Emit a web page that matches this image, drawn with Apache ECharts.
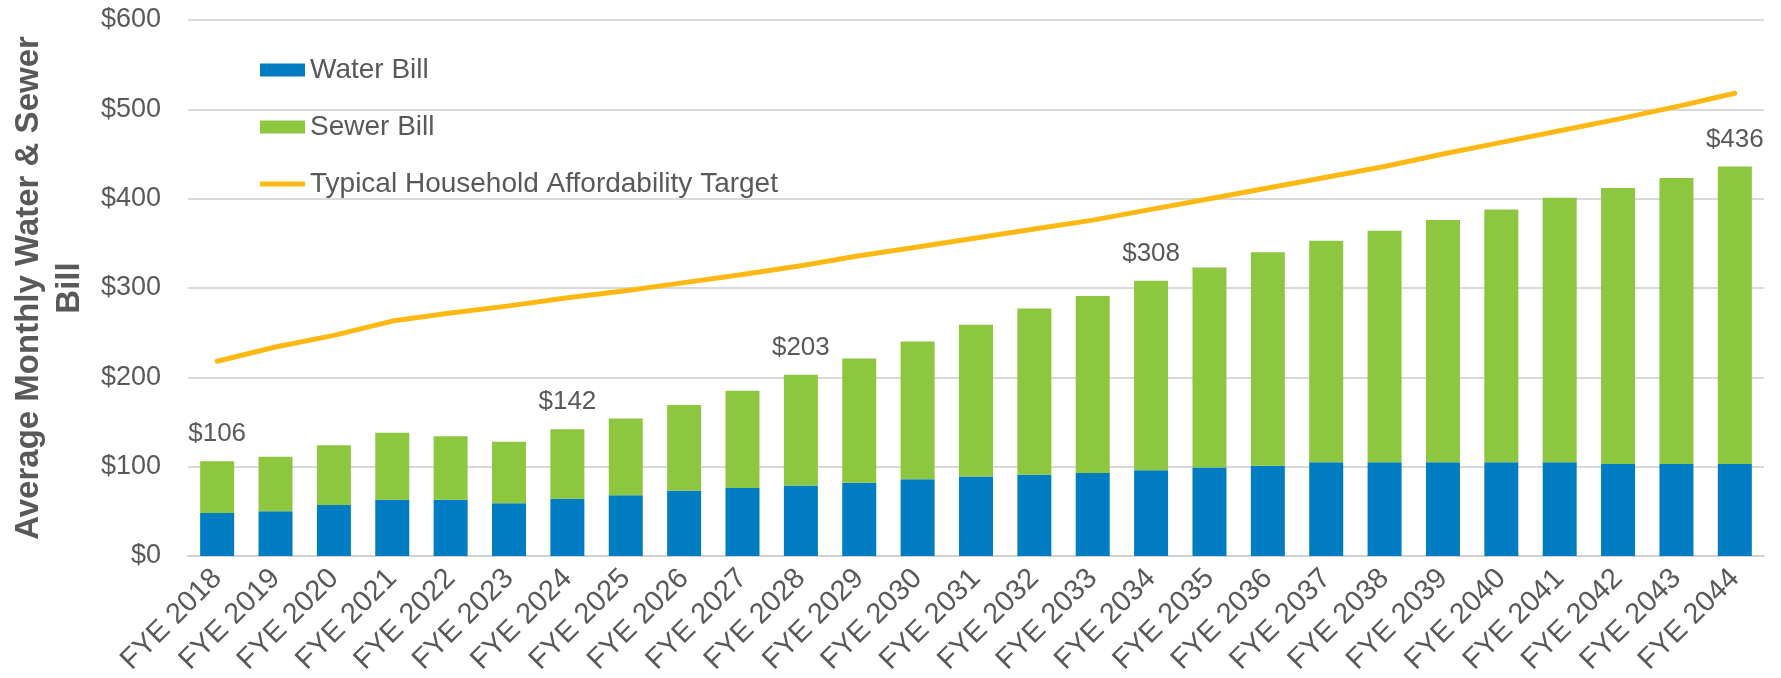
<!DOCTYPE html>
<html>
<head>
<meta charset="utf-8">
<script src="https://cdn.jsdelivr.net/npm/echarts@6/dist/echarts.min.js"></script>
<style>
  html, body { margin: 0; padding: 0; background: #fff; }
  #bill_chart { width: 1781px; height: 678px; }
</style>
</head>
<body>
<div id="bill_chart"></div>
<script>
// fiscal years on the x axis
let years = ['FYE 2018','FYE 2019','FYE 2020','FYE 2021','FYE 2022','FYE 2023','FYE 2024','FYE 2025','FYE 2026',
  'FYE 2027','FYE 2028','FYE 2029','FYE 2030','FYE 2031','FYE 2032','FYE 2033','FYE 2034','FYE 2035',
  'FYE 2036','FYE 2037','FYE 2038','FYE 2039','FYE 2040','FYE 2041','FYE 2042','FYE 2043','FYE 2044'];
// monthly bill parts ($)
let waterBill = [48,50,57,63,63,59,64,68,73,76,79,82,86,89,91,93,96,99,101,105,105,105,105,105,103,103,103];
let sewerBill = [58,61,67,75,71,69,78,86,96,109,124,139,154,170,186,198,212,224,239,248,259,271,283,296,309,320,333];
// affordability target line
let target = [218,234,247,263,272,280,289,297,306,315,325,336,346,356,366,376,388,400,412,424,436,450,463,476,489,503,518];
// years that get a total label over the bar
let labelledYears = ['FYE 2018','FYE 2024','FYE 2028','FYE 2034','FYE 2044'];
let yTicks = [0,100,200,300,400,500,600];

let font = 'Liberation Sans, Arial, sans-serif';
let grey = '#595959';

let option = {
  animation: false,
  textStyle: { fontFamily: font },
  legend: {
    orient: 'vertical',
    left: 255,
    top: 51,
    itemWidth: 45,
    itemHeight: 13,
    itemGap: 29,
    textStyle: { color: grey, fontSize: 28, fontFamily: font },
    data: [
      { name: 'Water Bill', icon: 'rect' },
      { name: 'Sewer Bill', icon: 'rect' },
      // plain thick line, no dot (the moveTo points keep the 45x13 box)
      { name: 'Typical Household Affordability Target', icon: 'path://M0,0 M45,13 M0,4 L45,4 L45,9 L0,9 Z' }
    ]
  },
  grid: { left: 187, right: 17, top: 20, bottom: 122 },
  xAxis: {
    type: 'category',
    data: years,
    axisLine: { lineStyle: { color: '#d0d0d0', width: 2 } },
    axisTick: { show: false },
    axisLabel: { rotate: 45, margin: 18, verticalAlign: 'middle', fontSize: 29, color: grey, fontFamily: font, interval: 0 }
  },
  yAxis: {
    type: 'value',
    min: yTicks[0],
    max: yTicks[yTicks.length - 1],
    interval: 100,
    name: 'Average Monthly Water & Sewer\nBill',
    nameLocation: 'middle',
    nameGap: 87,
    nameTextStyle: { fontSize: 33, fontWeight: 'bold', color: grey, lineHeight: 41, fontFamily: font },
    axisLine: { show: false },
    axisTick: { show: false },
    axisLabel: { formatter: '${value}', fontSize: 27, color: grey, margin: 27, fontFamily: font },
    splitLine: { lineStyle: { color: '#d9d9d9', width: 2 } }
  },
  series: [
    {
      name: 'Water Bill',
      type: 'bar',
      stack: 'bill',
      barWidth: 34,
      itemStyle: { color: '#007cc3' },
      data: waterBill
    },
    {
      name: 'Sewer Bill',
      type: 'bar',
      stack: 'bill',
      barWidth: 34,
      itemStyle: { color: '#8dc63f' },
      label: {
        show: true,
        position: 'top',
        distance: 14,
        fontSize: 26,
        color: grey,
        fontFamily: font,
        formatter(p) {
          if (labelledYears.indexOf(p.name) < 0) return '';
          return '$' + (waterBill[p.dataIndex] + sewerBill[p.dataIndex]);
        }
      },
      data: sewerBill
    },
    {
      name: 'Typical Household Affordability Target',
      type: 'line',
      symbol: 'none',
      lineStyle: { color: '#fdb913', width: 5, cap: 'round', join: 'round' },
      itemStyle: { color: '#fdb913' },
      data: target
    }
  ]
};

let myChart = echarts.init(document.getElementById('bill_chart'));
myChart.setOption(option);
</script>
</body>
</html>
